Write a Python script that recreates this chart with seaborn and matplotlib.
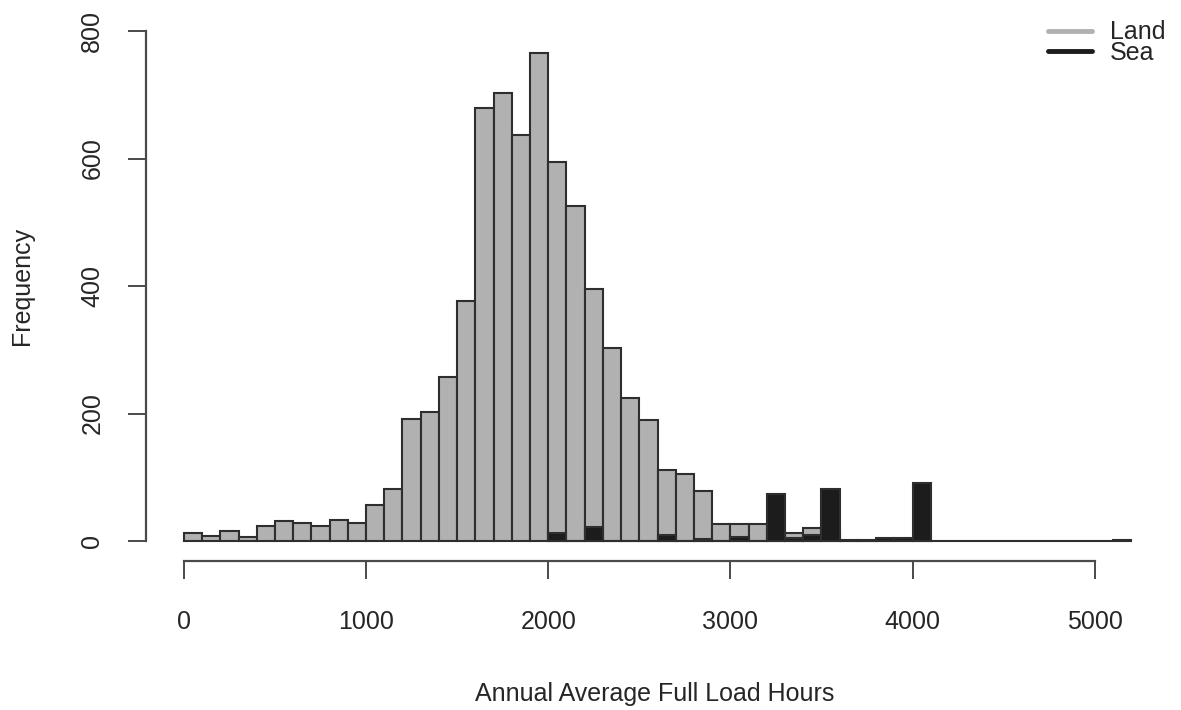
import numpy as np
import pandas as pd
import matplotlib
matplotlib.use("Agg")
import matplotlib.pyplot as plt
import seaborn as sns
from matplotlib.lines import Line2D

# ---- data (bin width 100 hours) ----
land_bin_start = list(range(0, 5200, 100))
land_counts = [12, 8, 15, 6, 24, 31, 28, 24, 33, 28,
               57, 82, 192, 202, 258, 377, 680, 702, 637, 766,
               595, 525, 395, 302, 224, 190, 112, 105, 78, 27,
               27, 27, 15, 12, 20, 10, 0, 0, 0, 0,
               2, 0, 0, 0, 0, 0, 0, 0, 0, 0,
               0, 2]
sea_bin_start = list(range(2000, 4100, 100))
sea_counts = [12, 0, 22, 0, 0, 0, 10, 0, 3, 0,
              6, 0, 73, 4, 9, 82, 1, 2, 4, 4,
              91]
x_ticks = [0, 1000, 2000, 3000, 4000, 5000]
y_ticks = [0, 200, 400, 600, 800]
series_names = ["Land", "Sea"]

bin_width = 100
land = pd.DataFrame({"hours": [b + bin_width / 2 for b in land_bin_start], "count": land_counts})
sea = pd.DataFrame({"hours": [b + bin_width / 2 for b in sea_bin_start], "count": sea_counts})
land_edges = [float(b) for b in land_bin_start] + [float(land_bin_start[-1] + bin_width)]
sea_edges = [float(b) for b in sea_bin_start] + [float(sea_bin_start[-1] + bin_width)]

sns.set_theme(style="white")
plt.rcParams["font.family"] = ["Liberation Sans", "DejaVu Sans"]

land_color = "#b1b1b1"
sea_color = "#1c1c1c"
edge = "#2e2e2e"
text_col = "#262626"
axis_col = "#4a4a4a"

fig = plt.figure(figsize=(11.81, 7.10), dpi=100)
ax = fig.add_axes([146 / 1181, 1 - 561.4 / 710, 1023 / 1181, 550.8 / 710])

sns.histplot(data=land, x="hours", weights="count", bins=land_edges, color=land_color,
             alpha=1, edgecolor=edge, linewidth=1.5, ax=ax)
sns.histplot(data=sea, x="hours", weights="count", bins=sea_edges, color=sea_color,
             alpha=1, edgecolor=edge, linewidth=1.5, ax=ax)

ax.set_xlim(-208, 5408)
ax.set_ylim(-32, 832)

for s in ["top", "right"]:
    ax.spines[s].set_visible(False)
ax.spines["left"].set_bounds(0, 800)
ax.spines["bottom"].set_bounds(0, 5000)
for s in ["left", "bottom"]:
    ax.spines[s].set_color(axis_col)
    ax.spines[s].set_linewidth(1.6)

ax.set_xticks(x_ticks)
ax.set_yticks(y_ticks)
ax.set_xticklabels([str(v) for v in x_ticks])
ax.set_yticklabels([str(v) for v in y_ticks], rotation=90, va="center")
ax.tick_params(axis="both", direction="out", length=13, width=1.4, color=axis_col,
               labelsize=18, labelcolor=text_col, bottom=True, left=True)
ax.tick_params(axis="x", pad=22)
ax.tick_params(axis="y", pad=17)

ax.set_xlabel("Annual Average Full Load Hours", fontsize=18, color=text_col)
ax.set_ylabel("Frequency", fontsize=18, color=text_col)
ax.xaxis.set_label_coords((640 - 146) / 1023 + 0.0145, -0.2190)
ax.yaxis.set_label_coords(-0.1095, 0.5)

handles = [Line2D([0], [0], color=land_color, lw=3.5),
           Line2D([0], [0], color=sea_color, lw=3.5)]
leg = ax.legend(handles, series_names, loc="upper right", bbox_to_anchor=(1.0, 0.989),
                frameon=False, fontsize=18, labelspacing=-0.15, handlelength=1.76,
                handletextpad=0.72, borderaxespad=0.0, borderpad=0.15)
for t in leg.get_texts():
    t.set_color(text_col)

fig.savefig("out.png", dpi=100, facecolor="white")
